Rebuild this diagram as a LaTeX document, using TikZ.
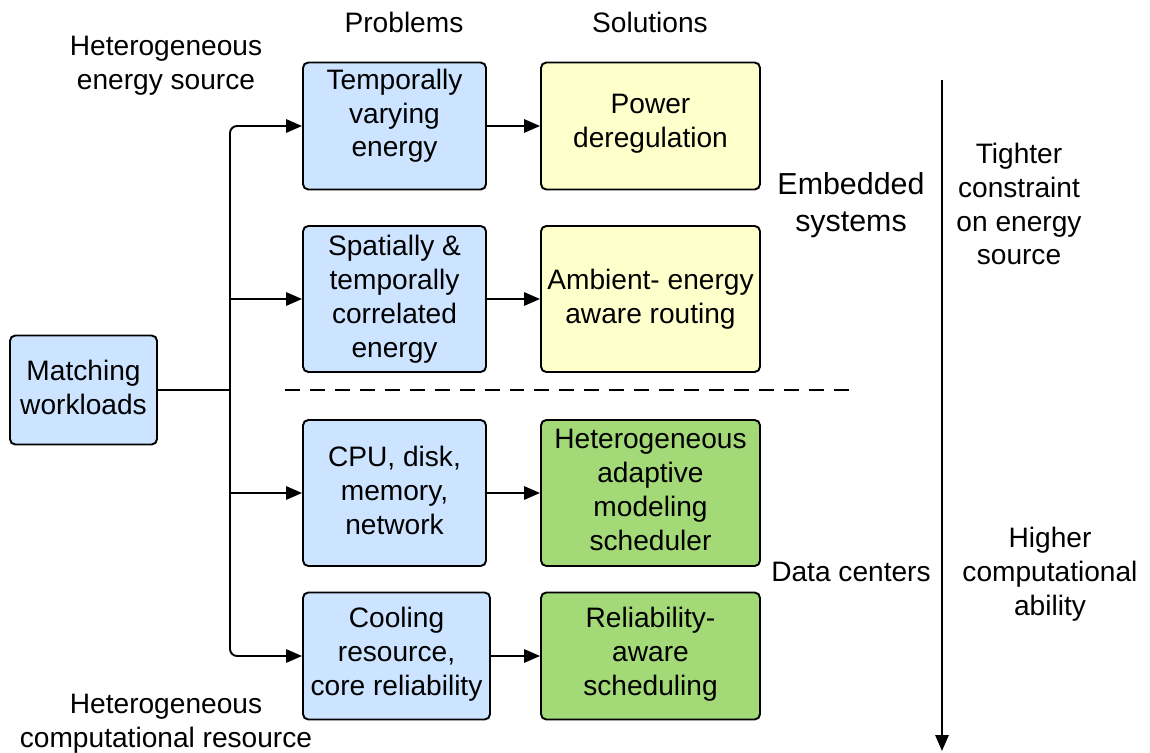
\documentclass[tikz,border=0pt]{standalone}
\usepackage{fontspec}
\setmainfont{Liberation Sans}
\usetikzlibrary{arrows.meta}

\definecolor{probblue}{RGB}{204,228,255}
\definecolor{solyellow}{RGB}{255,255,204}
\definecolor{solgreen}{RGB}{163,217,119}

\tikzset{
	box/.style={draw, line width=1.1pt, rounded corners=3pt, align=center, inner sep=2pt},
	prob/.style={box, fill=probblue, minimum width=3.66cm},
	sol/.style={box, minimum width=4.38cm},
	link/.style={line width=1.1pt},
	arr/.style={link, -{Triangle[length=9pt,width=7.5pt]}},
	lbl/.style={align=center, inner sep=0pt}
}

\begin{document}
\begin{tikzpicture}[x=0.02cm, y=-0.02cm, font=\fontsize{16}{19.3}\selectfont]
	\useasboundingbox (0,0) rectangle (1150,753);

	\node[prob, minimum width=2.94cm, minimum height=2.18cm, text depth=3.5pt] (match) at (83.5,390) {Matching\\workloads};

	\node[prob, minimum height=2.54cm, text depth=15pt] (p1) at (394.5,126) {Temporally\\varying\\energy};
	\node[prob, minimum height=2.92cm] (p2) at (394.5,299) {Spatially \&\\temporally\\correlated\\energy};
	\node[prob, minimum height=2.92cm, text depth=3pt] (p3) at (394.5,493) {CPU, disk,\\memory,\\network};
	\node[prob, minimum width=3.74cm, minimum height=2.54cm, text depth=5.8pt] (p4) at (396.5,656) {Cooling\\resource,\\core reliability};

	\node[sol, fill=solyellow, minimum height=2.54cm, text depth=6pt] (s1) at (650.5,126) {Power\\deregulation};
	\node[sol, fill=solyellow, minimum height=2.92cm] (s2) at (650.5,299) {Ambient- energy\\aware routing};
	\node[sol, fill=solgreen, minimum height=2.92cm, text depth=3.5pt] (s3) at (650.5,493) {Heterogeneous\\adaptive\\modeling\\scheduler};
	\node[sol, fill=solgreen, minimum height=2.54cm, text depth=5.8pt] (s4) at (650.5,656) {Reliability-\\aware\\scheduling};

	% headings and side labels
	\node[lbl] (hprob) at (404,22) {Problems};
	\node[lbl] (hsol) at (650,22) {Solutions};
	\node[lbl] (energy) at (166,66) {Heterogeneous\\energy source};
	\node[lbl] (comp) at (166,724) {Heterogeneous\\computational resource};
	\node[lbl, font=\fontsize{17.3}{20.7}\selectfont] (embed) at (851,205) {Embedded\\systems};
	\node[lbl] (dc) at (851,572) {Data centers};
	\node[lbl] (tight) at (1019,204) {Tighter\\constraint\\on energy\\source};
	\node[lbl] (higher) at (1050,574) {Higher\\computational\\ability};

	% fan-out from the workload box
	\coordinate (fork) at (230,390);
	\draw[link] (match) -- (fork);
	\draw[arr, rounded corners=4pt] (fork) |- (p1);
	\draw[arr, rounded corners=4pt] (fork) |- (p4);
	\draw[arr] (fork |- p2) -- (p2);
	\draw[arr] (fork |- p3) -- (p3);
	\foreach \P/\S in {p1/s1,p2/s2,p3/s3,p4/s4}
		\draw[arr] (\P) -- (\S);

	% split between the two domains
	\coordinate (split-l) at (285,390);
	\coordinate (split-r) at (852,390);
	\draw[link, dash pattern=on 8.5pt off 5.7pt] (split-l) -- (split-r);

	\coordinate (scale-top) at (942,80);
	\coordinate (scale-bot) at (942,751);
	\draw[arr] (scale-top) -- (scale-bot);
\end{tikzpicture}
\end{document}
